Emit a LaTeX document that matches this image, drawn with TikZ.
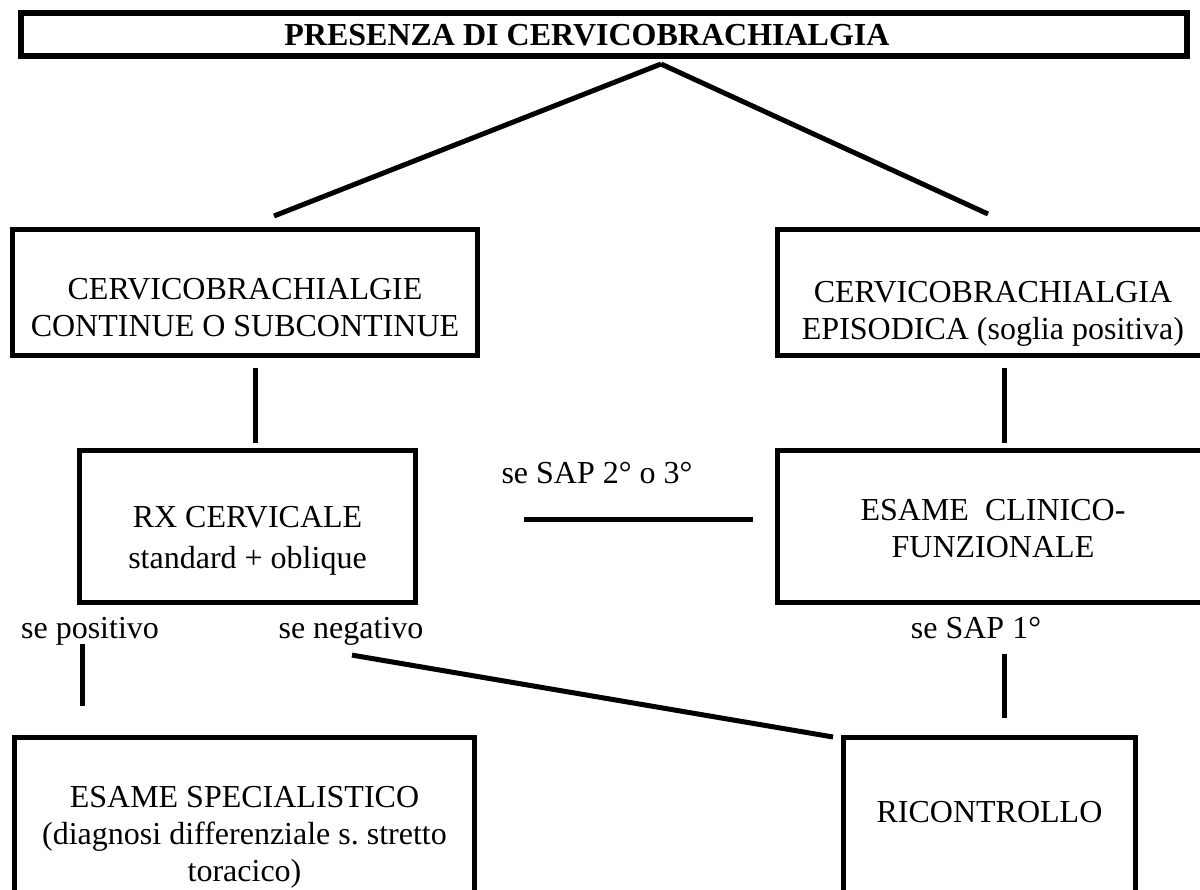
\documentclass[tikz,border=0pt]{standalone}
\usepackage{fontspec}
\setmainfont{Liberation Serif}
\usetikzlibrary{calc}

\begin{document}
\begin{tikzpicture}[
    x=1pt, y=-1pt,
    box/.style={rectangle, draw, line width=5pt, align=center, inner sep=0pt, text depth=0pt, font=\fontsize{32}{37}\selectfont},
    tag/.style={anchor=base, inner sep=0pt, font=\fontsize{32}{37}\selectfont},
    link/.style={line width=5pt}
]
\useasboundingbox (0,0) rectangle (1200,890);

\node[box, line width=6pt, minimum width=1166pt, minimum height=43pt, font=\fontsize{32}{37}\selectfont\bfseries] (top) at (604,34.5) {PRESENZA DI CERVICOBRACHIALGIA\hspace*{34pt}};

\node[box, minimum width=465pt, minimum height=126pt, text height=89pt] (A) at (245,292.5) {CERVICOBRACHIALGIE\\CONTINUE O SUBCONTINUE};
\node[box, minimum width=431pt, minimum height=126pt, text height=95pt] (B) at (993,292.5) {CERVICOBRACHIALGIA\\EPISODICA (soglia positiva)};

\node[box, minimum width=336pt, minimum height=152pt, text height=83pt, font=\fontsize{32}{41}\selectfont] (C) at (247.5,526.5) {RX CERVICALE\\standard + oblique};
\node[box, minimum width=431pt, minimum height=152pt, text height=61pt] (D) at (993,526.5) {ESAME\ \ CLINICO-\\FUNZIONALE};

\node[box, minimum width=460pt, minimum height=215pt, text height=72pt] (E) at (244.5,845) {ESAME SPECIALISTICO\\(diagnosi differenziale s.\ stretto\\toracico)};
\node[box, minimum width=292pt, minimum height=165pt, text height=4pt] (F) at (989.5,820) {RICONTROLLO};

\node[tag] (sap23) at (597,483) {se SAP 2° o 3°};
\node[tag] (pos) at (90,638) {se positivo};
\node[tag] (neg) at (351,638) {se negativo};
\node[tag] (sap1) at (976,638) {se SAP 1°};

\coordinate (apex) at ($(top.south)+(57,5)$);
\draw[link] (apex) -- ($(A.north)+(29,-11)$);
\draw[link] (apex) -- ($(B.north)+(-5,-13)$);
\draw[link] ($(A.south)+(10,10)$) -- ($(C.north)+(7.5,-5)$);
\draw[link] ($(B.south)+(11,10)$) -- ($(D.north)+(11,-5)$);
\draw[link] ($(D.west)+(-22,-7.5)$) -- ($(C.east)+(106,-7.5)$);
\draw[link] ($(pos.south)+(-8,-1)$) -- ++(0,62);
\draw[link] ($(neg.south)+(1,10)$) -- ($(F.north west)+(-8,2)$);
\draw[link] ($(sap1.south)+(28,15)$) -- ++(0,64);

\end{tikzpicture}
\end{document}
